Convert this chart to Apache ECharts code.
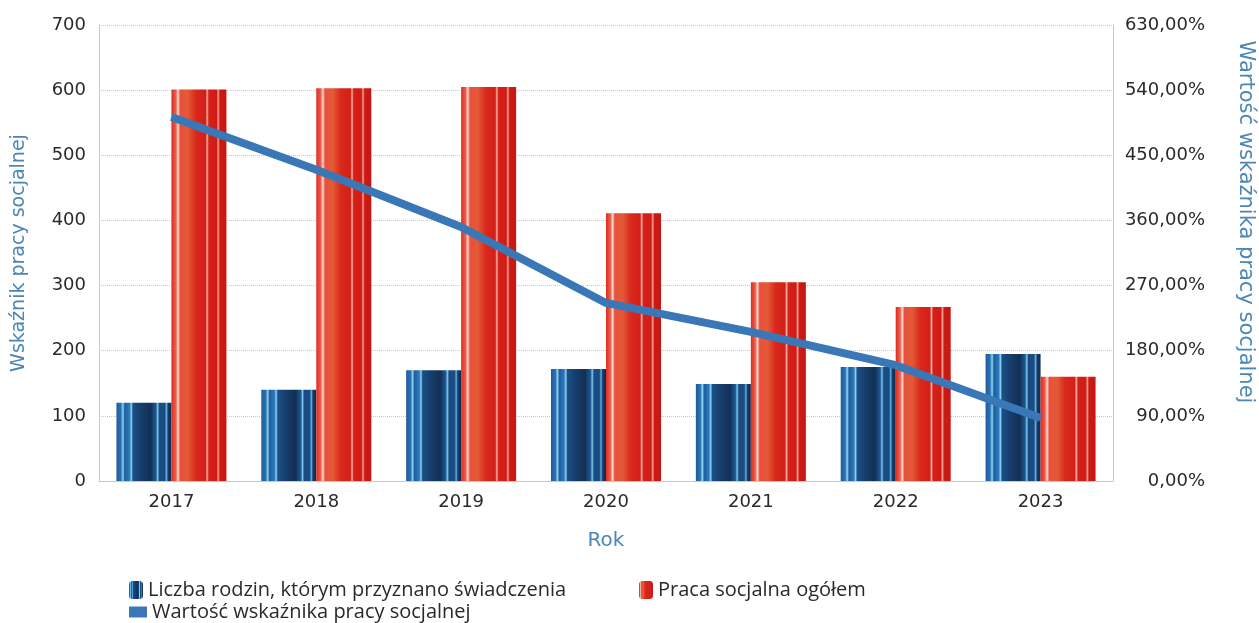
<!DOCTYPE html>
<html><head><meta charset="utf-8">
<script src="https://cdn.jsdelivr.net/npm/echarts@6/dist/echarts.min.js"></script>
<style>html,body{margin:0;padding:0;background:#fff}#c{width:1259px;height:623px}</style>
</head><body><div id="c"></div>
<script>
const years = ['2017','2018','2019','2020','2021','2022','2023'];
const families = [120, 140, 170, 172, 149, 175, 195];
const socialWork = [601, 603, 605, 411, 305, 267, 160];
const indicator = [503, 430, 351, 246, 206, 160, 87];

const blueFill = new echarts.graphic.LinearGradient(0,0,1,0,[
  {offset:0,color:'#1f5d9c'},{offset:0.08,color:'#2a6fb0'},{offset:0.12,color:'#8fd4f5'},
  {offset:0.15,color:'#1f5d9c'},{offset:0.24,color:'#2d7bbd'},{offset:0.27,color:'#8fd4f5'},
  {offset:0.30,color:'#1c4f86'},{offset:0.45,color:'#163e6c'},{offset:0.62,color:'#132f55'},
  {offset:0.72,color:'#1d5a96'},{offset:0.75,color:'#7fc8ef'},{offset:0.78,color:'#1a4c82'},
  {offset:0.88,color:'#1a4c82'},{offset:0.91,color:'#5fb0e6'},{offset:0.94,color:'#163a66'},
  {offset:1,color:'#10294a'}
]);
const redFill = new echarts.graphic.LinearGradient(0,0,1,0,[
  {offset:0,color:'#e02a20'},{offset:0.08,color:'#e8604a'},{offset:0.12,color:'#f8d8d0'},
  {offset:0.16,color:'#e8503c'},{offset:0.30,color:'#e35a36'},{offset:0.45,color:'#d8281c'},
  {offset:0.62,color:'#d42018'},{offset:0.65,color:'#f6b0a0'},{offset:0.68,color:'#d42018'},
  {offset:0.82,color:'#d01c16'},{offset:0.85,color:'#f3a290'},{offset:0.88,color:'#cc1a14'},
  {offset:1,color:'#c81612'}
]);

const chart = echarts.init(document.getElementById('c'));
const tickFont = {fontFamily:'DejaVu Sans', fontSize:18, color:'#2a2a2a'};
const nameFont = {fontFamily:'DejaVu Sans', fontSize:20, color:'#4a86b8'};
const legendText = {fontFamily:'Open Sans', fontSize:20, color:'#2a2a2a', lineHeight:22};
chart.setOption({
  animation:false,
  grid:{left:99, right:146, top:25, bottom:142},
  legend:[
    {left:124, top:577, padding:[2,5], itemWidth:14, itemHeight:18, itemGap:20, textStyle:legendText,
     data:['Liczba rodzin, którym przyznano świadczenia']},
    {left:634, top:577, padding:[2,5], itemWidth:14, itemHeight:18, textStyle:legendText,
     data:['Praca socjalna ogółem']},
    {left:124, top:600, padding:[1,5], itemWidth:18, itemHeight:11, textStyle:legendText,
     data:[{name:'Wartość wskaźnika pracy socjalnej', icon:'rect'}]}
  ],
  graphic:[
    {type:'text', x:1245, y:222, rotation:-Math.PI/2,
     style:{text:'Wartość wskaźnika pracy socjalnej', font:'21px "DejaVu Sans"', fill:'#4a86b8',
       align:'center', verticalAlign:'middle'}}
  ],
  xAxis:{type:'category', data:years, name:'Rok', nameLocation:'middle', nameGap:50,
    nameTextStyle:nameFont,
    axisLine:{lineStyle:{color:'#c8c8d0'}}, axisTick:{show:false},
    axisLabel:Object.assign({margin:12}, tickFont)},
  yAxis:[
    {type:'value', min:0, max:700, interval:100, name:'Wskaźnik pracy socjalnej',
     nameLocation:'middle', nameGap:70, nameRotate:90,
     nameTextStyle:Object.assign({}, nameFont, {fontSize:19}),
     axisLine:{show:true, lineStyle:{color:'#c8c8d0'}}, axisTick:{show:false},
     axisLabel:Object.assign({margin:13}, tickFont),
     splitLine:{lineStyle:{color:'#c2cad8', type:'dotted'}}},
    {type:'value', min:0, max:630, interval:90,
     axisLine:{show:true, lineStyle:{color:'#c8c8d0'}}, axisTick:{show:false},
     axisLabel:Object.assign({margin:92, align:'right',
       formatter:v=>v.toFixed(2).replace('.',',')+'%'}, tickFont),
     splitLine:{show:false}}
  ],
  series:[
    {name:'Liczba rodzin, którym przyznano świadczenia', type:'bar', data:families,
     barWidth:55, barGap:'0%', itemStyle:{color:blueFill}},
    {name:'Praca socjalna ogółem', type:'bar', data:socialWork,
     barWidth:55, barGap:'0%', itemStyle:{color:redFill}},
    {name:'Wartość wskaźnika pracy socjalnej', type:'line', yAxisIndex:1, data:indicator,
     showSymbol:false, symbol:'none', lineStyle:{width:8, color:'#3a77b6'}, itemStyle:{color:'#3a77b6'}, z:5}
  ]
});
</script></body></html>
